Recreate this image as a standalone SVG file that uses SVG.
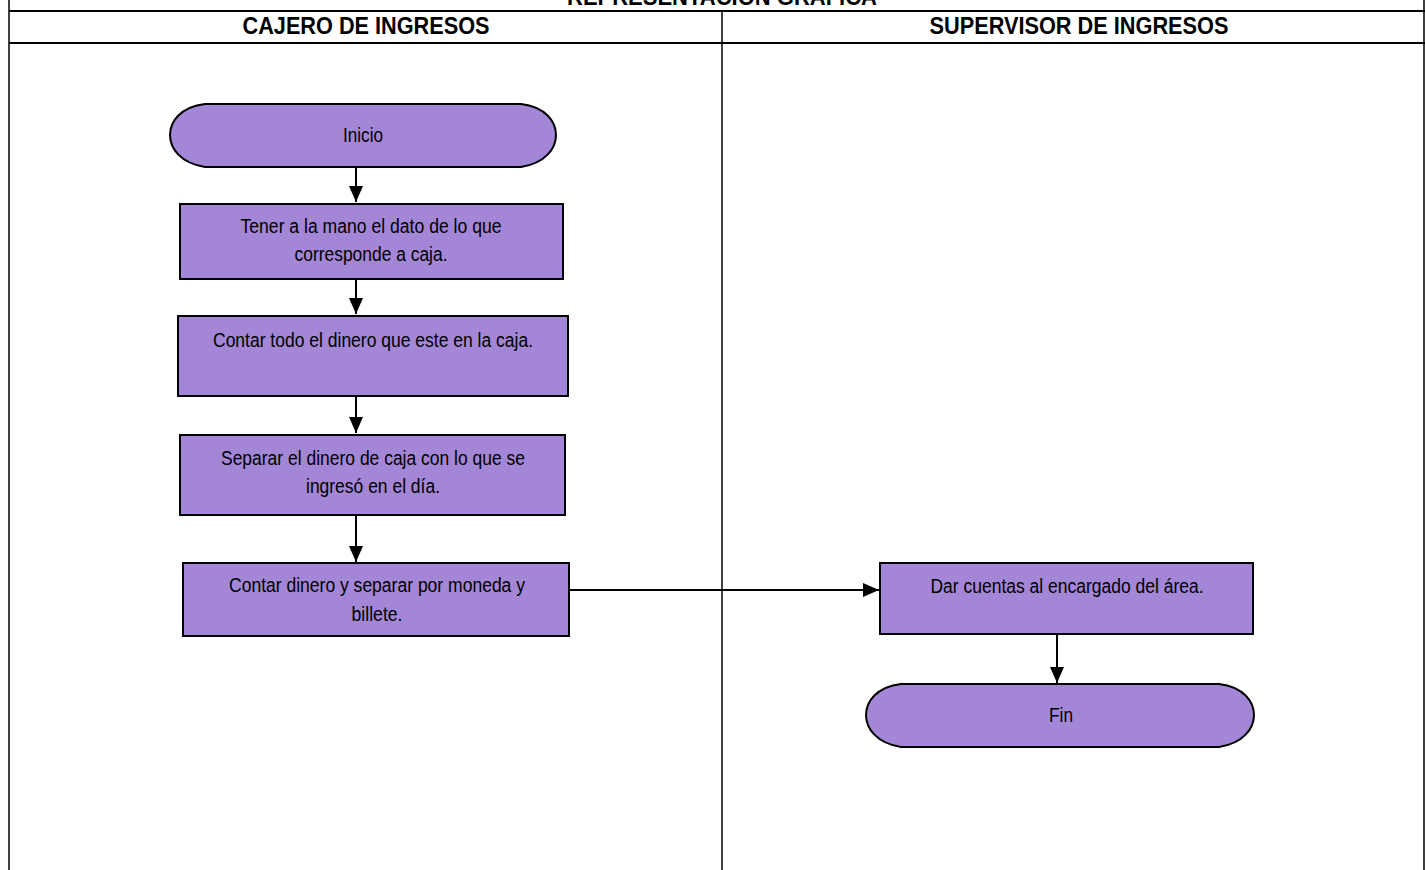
<svg xmlns="http://www.w3.org/2000/svg" width="1425" height="870" viewBox="0 0 1425 870">
<style>
.frame{stroke:#000;fill:none}
.shape{fill:#A386D5;stroke:#000;stroke-width:2}
.t{font-family:"Liberation Sans Narrow","Liberation Sans",sans-serif;font-size:20px;fill:#000;text-anchor:middle}
.h{font-family:"Liberation Sans Narrow","Liberation Sans",sans-serif;font-size:24px;font-weight:bold;fill:#000;text-anchor:middle}
.c{stroke:#000;stroke-width:2;fill:none;marker-end:url(#ah)}
</style>
<defs>
<marker id="ah" viewBox="0 0 10 10" refX="10" refY="5" markerWidth="16" markerHeight="14" markerUnits="userSpaceOnUse" orient="auto" preserveAspectRatio="none">
<path d="M0,0 L10,5 L0,10 Z" fill="#000"/>
</marker>
</defs>
<rect width="1425" height="870" fill="#fff"/>
<g id="table">
<text class="h" x="722" y="5" textLength="310" lengthAdjust="spacingAndGlyphs">REPRESENTACIÓN GRÁFICA</text>
<line class="frame" x1="9" y1="0" x2="9" y2="870" stroke-width="1.5"/>
<line class="frame" x1="1424" y1="0" x2="1424" y2="870" stroke-width="1.5"/>
<line class="frame" x1="9" y1="11" x2="1425" y2="11" stroke-width="2"/>
<line class="frame" x1="9" y1="43" x2="1425" y2="43" stroke-width="2"/>
<line class="frame" x1="722" y1="11" x2="722" y2="870" stroke-width="1.5"/>
<text class="h" x="366" y="34" textLength="247" lengthAdjust="spacingAndGlyphs">CAJERO DE INGRESOS</text>
<text class="h" x="1079" y="34" textLength="299" lengthAdjust="spacingAndGlyphs">SUPERVISOR DE INGRESOS</text>
</g>
<g id="connectors">
<line class="c" x1="356" y1="167" x2="356" y2="202"/>
<line class="c" x1="356" y1="279" x2="356" y2="314"/>
<line class="c" x1="356" y1="396" x2="356" y2="433"/>
<line class="c" x1="356" y1="515" x2="356" y2="562"/>
<line class="c" x1="569" y1="590" x2="879" y2="590"/>
<line class="c" x1="1057" y1="634" x2="1057" y2="683"/>
</g>
<g id="inicio">
<path class="shape" d="M205,104 L521,104 C546,107 556,122 556,135 C556,148 546,163 521,167 L205,167 C180,163 170,148 170,135 C170,122 180,107 205,104 Z"/>
<text class="t" x="363" y="142" textLength="40" lengthAdjust="spacingAndGlyphs">Inicio</text>
</g>
<g id="paso1">
<rect class="shape" x="180" y="204" width="383" height="75"/>
<text class="t" x="371" y="233" textLength="261" lengthAdjust="spacingAndGlyphs">Tener a la mano el dato de lo que</text>
<text class="t" x="371" y="261" textLength="153" lengthAdjust="spacingAndGlyphs">corresponde a caja.</text>
</g>
<g id="paso2">
<rect class="shape" x="178" y="316" width="390" height="80"/>
<text class="t" x="373" y="347" textLength="320" lengthAdjust="spacingAndGlyphs">Contar todo el dinero que este en la caja.</text>
</g>
<g id="paso3">
<rect class="shape" x="180" y="435" width="385" height="80"/>
<text class="t" x="373" y="465" textLength="304" lengthAdjust="spacingAndGlyphs">Separar el dinero de caja con lo que se</text>
<text class="t" x="373" y="493" textLength="134" lengthAdjust="spacingAndGlyphs">ingresó en el día.</text>
</g>
<g id="paso4">
<rect class="shape" x="183" y="563" width="386" height="73"/>
<text class="t" x="377" y="592" textLength="296" lengthAdjust="spacingAndGlyphs">Contar dinero y separar por moneda y</text>
<text class="t" x="377" y="621" textLength="51" lengthAdjust="spacingAndGlyphs">billete.</text>
</g>
<g id="paso5">
<rect class="shape" x="880" y="563" width="373" height="71"/>
<text class="t" x="1067" y="593" textLength="273" lengthAdjust="spacingAndGlyphs">Dar cuentas al encargado del área.</text>
</g>
<g id="fin">
<path class="shape" d="M901,684 L1219,684 C1244,687 1254,702 1254,715 C1254,728 1244,743 1219,747 L901,747 C876,743 866,728 866,715 C866,702 876,687 901,684 Z"/>
<text class="t" x="1061" y="722" textLength="24" lengthAdjust="spacingAndGlyphs">Fin</text>
</g>
</svg>
